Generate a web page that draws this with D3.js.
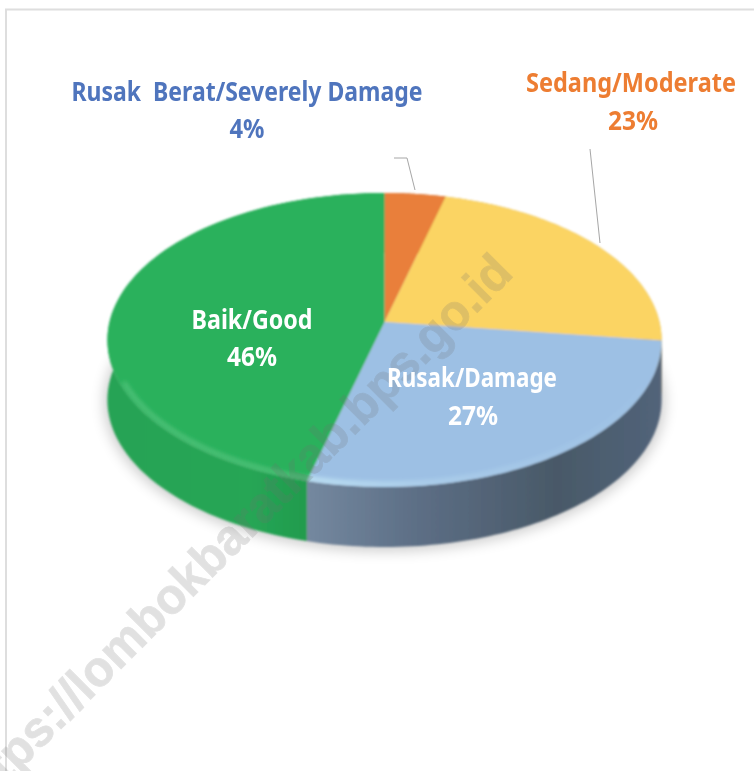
<!DOCTYPE html>
<html><head><meta charset="utf-8">
<script src="https://cdn.jsdelivr.net/npm/d3@7"></script>
<style>html,body{margin:0;background:#fff}svg{display:block}text{font-family:"Noto Sans",sans-serif;font-weight:700;white-space:pre}</style>
</head><body><svg id="c" width="754" height="771"></svg>
<script>
const categories=["Rusak  Berat/Severely Damage","Sedang/Moderate","Rusak/Damage","Baik/Good"];
const values=[4,23,27,46];
const percentLabels=["4%","23%","27%","46%"];
const topColors=["#e97f3b","#fbd463","#9dc0e4","#29b15c"];
const labelColors=["#4f74bd","#ed7d31","#ffffff","#ffffff"];
const labelCenters=[[247,101],[631,92],[472,387],[252,329]];
const percentCenters=[[247,138],[633,130],[473,425],[252,366]];
const labelWidths=[351,210,170,121];
const percentWidths=[35,50,50,50];

const svg=d3.select("#c"),defs=svg.append("defs");
const cx=384.5,cy=322,R=275,k=0.1224,A=144.8,depth=60;
// perspective projection of a circular pie seen from above
const proj=(a,r=1,dy=0,s=1)=>{const u=r*Math.sin(a),v=-r*Math.cos(a),d=1-k*v;
  return [cx+s*R*u/d,cy+s*A*v/d+dy];};
const pie=d3.pie().sort(null).value(d=>d);
const arcs=pie(values);
const samples=(a0,a1)=>d3.range(0,81).map(i=>a0+(a1-a0)*i/80);
const line=d3.line();
const full=samples(0,2*Math.PI);
const bottomOf=a=>proj(a,1,depth,1);

// defs
const blur=(id,std)=>defs.append("filter").attr("id",id).attr("x","-20%").attr("y","-20%").attr("width","140%").attr("height","140%")
  .append("feGaussianBlur").attr("stdDeviation",std);
blur("sh",7);blur("rim",2.2);blur("soft",.8);blur("softText",.3);
const grad=(id,stops,x1,x2)=>{const g=defs.append("linearGradient").attr("id",id).attr("gradientUnits","userSpaceOnUse")
  .attr("x1",x1).attr("x2",x2).attr("y1",0).attr("y2",0);
  stops.forEach(([o,c])=>g.append("stop").attr("offset",o).attr("stop-color",c));};
grad("sideBlue",[[0,"#74889f"],[.3,"#5d6f86"],[.7,"#495968"],[1,"#52647a"]],308,662);
grad("sideGreen",[[0,"#25a354"],[.7,"#26a655"],[1,"#219a4d"]],105,312);
grad("rimBlue",[[0,"#c8ecf8"],[.35,"#b0d2ec"],[1,"#9dc0e4"]],308,660);
defs.append("clipPath").attr("id","topClip").append("path").attr("d",line(full.map(a=>proj(a)))+"Z");

// frame
svg.append("path").attr("d",d3.line()([[6,771],[6,9.5],[754,9.5]])).attr("fill","none").attr("stroke","#dedede").attr("stroke-width",2);

// shadow
svg.append("path").attr("d",line(full.map(a=>proj(a,1,depth+2,1.012)))+"Z").attr("fill","#000").attr("opacity",.2).attr("filter","url(#sh)");

const pie3d=svg.append("g").attr("filter","url(#soft)");
// side walls
const sideFill=["#b96a33","#c9a64d","url(#sideBlue)","url(#sideGreen)"];
pie3d.selectAll("path.side").data(arcs).join("path").attr("class","side")
  .attr("d",d=>{const s=samples(d.startAngle,d.endAngle);return line(s.map(a=>proj(a)).concat(s.slice().reverse().map(bottomOf)))+"Z";})
  .attr("fill",(d,i)=>sideFill[i]);
// top slices
pie3d.selectAll("path.top").data(arcs).join("path").attr("class","top")
  .attr("d",d=>line([[cx,cy]].concat(samples(d.startAngle,d.endAngle).map(a=>proj(a))))+"Z")
  .attr("fill",(d,i)=>topColors[i]);
// bevel highlight along the front rim only
const rimFrom=2.0,rimTo=4.3;
const rim=pie3d.append("g").attr("clip-path","url(#topClip)");
const rimColor=["none","none","url(#rimBlue)","#55c47e"];
rim.selectAll("path").data(arcs).join("path")
  .attr("d",d=>line(samples(Math.max(d.startAngle,rimFrom),Math.min(d.endAngle,rimTo)).map(a=>proj(a,.985))))
  .attr("fill","none").attr("stroke",(d,i)=>rimColor[i]).attr("stroke-width",4).attr("filter","url(#rim)");

// watermark
svg.append("text").attr("transform","translate(-26,816) rotate(-45)")
  .attr("textLength",765).attr("lengthAdjust","spacingAndGlyphs")
  .style("font-family","'Liberation Sans'").style("font-size","50px")
  .attr("fill","#707070").attr("stroke","#707070").attr("stroke-width",.8).attr("opacity",.2).text("https://lombokbaratkab.bps.go.id");

// leader lines
const leaders=[[[394,158],[407,158],[415,190]],[[590,149],[600,243]]];
svg.selectAll("path.lead").data(leaders).join("path").attr("class","lead").attr("d",d=>line(d))
  .attr("fill","none").attr("stroke","#a6a6a6").attr("stroke-width",1);

// labels
const order=d3.range(categories.length);
const txt=(cls,pos,str,w)=>svg.selectAll("text."+cls).data(order).join("text").attr("class",cls)
  .attr("text-anchor","middle").attr("filter","url(#softText)")
  .attr("x",i=>pos[i][0]).attr("y",i=>pos[i][1]).attr("fill",i=>labelColors[i]).attr("font-size",27)
  .attr("textLength",i=>w[i]).attr("lengthAdjust","spacingAndGlyphs").text(i=>str[i]);
txt("l",labelCenters,categories,labelWidths);
txt("p",percentCenters,percentLabels,percentWidths);
</script></body></html>
